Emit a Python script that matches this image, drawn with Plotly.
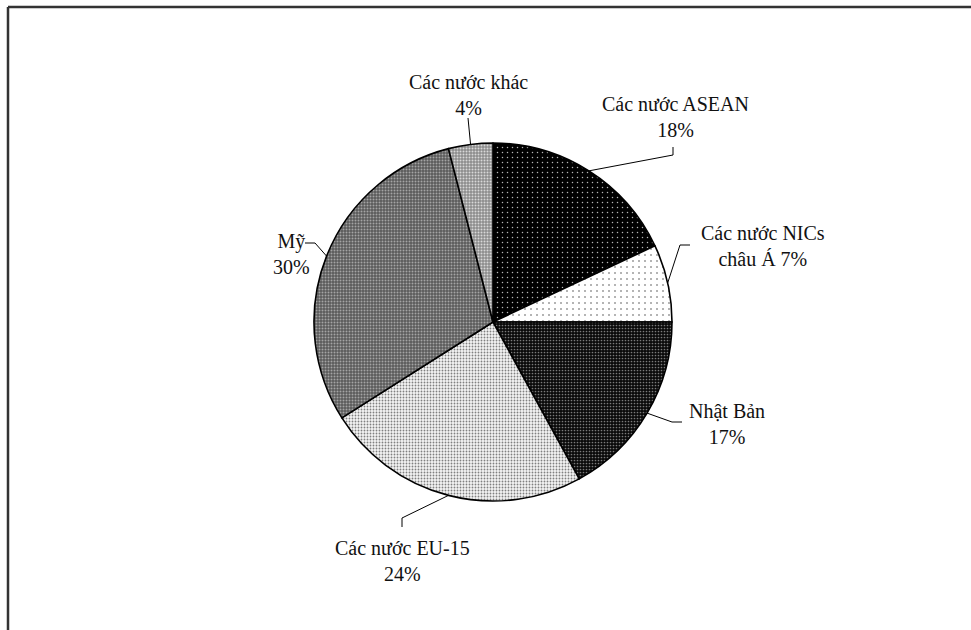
import math
import plotly.graph_objects as go

# ---- data ----
labels = ["Các nước ASEAN", "Các nước NICs châu Á", "Nhật Bản", "Các nước EU-15", "Mỹ", "Các nước khác"]
values = [18, 7, 17, 24, 30, 4]
label_text = [
    "Các nước ASEAN<br>18%",
    "Các nước NICs<br>châu Á 7%",
    "Nhật Bản<br>17%",
    "Các nước EU-15<br>24%",
    "Mỹ<br>30%",
    "Các nước khác<br>4%",
]

# ---- style / layout ----
W, H = 971, 630
CX, CY, R = 493, 322, 179  # pie centre and radius in px
FONT = dict(family="Liberation Serif, Times New Roman, serif", size=20, color="#111")

# label block centres (px) and leader bend/end points (px)
label_pos = [(675, 117), (763, 246), (727, 424), (402, 561), (291, 254), (468, 95)]
leader_pts = [
    [(673, 155), (673, 147)],
    [(680, 245), (690, 245)],
    [(672, 422), (682, 422)],
    [(402, 518), (402, 527)],
    [(315, 243), (305, 243)],
    [(468, 118)],
]

pat_bg = ["#000000", "#ffffff", "#0a0a0a", "#f4f4f4", "#5a5a5a", "#8c8c8c"]
pat_fg = ["#b5b5b5", "#555555", "#7a7a7a", "#808080", "#a4a4a4", "#d8d8d8"]
pat_size = [5, 6, 3, 3, 3, 3]
pat_sol = [0.07, 0.06, 0.25, 0.3, 0.35, 0.35]


def px(x):
    return x / W


def py(y):
    return 1 - y / H


fig = go.Figure(
    go.Pie(
        labels=labels,
        values=values,
        sort=False,
        direction="clockwise",
        rotation=0,
        textinfo="none",
        hoverinfo="label+percent",
        showlegend=False,
        domain=dict(x=[px(CX - R), px(CX + R)], y=[py(CY + R), py(CY - R)]),
        marker=dict(
            colors=pat_bg,
            line=dict(color="#000000", width=1.6),
            pattern=dict(
                shape=["."] * len(values),
                bgcolor=pat_bg,
                fgcolor=pat_fg,
                size=pat_size,
                solidity=pat_sol,
                fillmode="replace",
            ),
        ),
    )
)

shapes = []
annotations = []
total = sum(values)
cum = 0
for i, v in enumerate(values):
    mid = (cum + v / 2) / total * 2 * math.pi
    cum += v
    sx = CX + R * math.sin(mid)
    sy = CY - R * math.cos(mid)
    pts = [(sx, sy)] + leader_pts[i]
    for (x0, y0), (x1, y1) in zip(pts[:-1], pts[1:]):
        shapes.append(dict(type="line", xref="paper", yref="paper",
                           x0=px(x0), y0=py(y0), x1=px(x1), y1=py(y1),
                           line=dict(color="#000", width=1)))
    lx, ly = label_pos[i]
    annotations.append(dict(text=label_text[i], x=px(lx), y=py(ly), xref="paper", yref="paper",
                             xanchor="center", yanchor="middle", showarrow=False,
                             align="center", font=FONT))

# chart frame (top and left edges visible)
shapes.append(dict(type="line", xref="paper", yref="paper", x0=px(8), y0=py(7), x1=1, y1=py(7),
                   line=dict(color="#333", width=2.5)))
shapes.append(dict(type="line", xref="paper", yref="paper", x0=px(8), y0=py(7), x1=px(8), y1=0,
                   line=dict(color="#333", width=2.5)))

fig.update_layout(
    width=W, height=H,
    margin=dict(l=0, r=0, t=0, b=0),
    paper_bgcolor="white", plot_bgcolor="white",
    shapes=shapes, annotations=annotations,
)

fig.write_html("out.html", config={"displayModeBar": False},
               post_script="document.body.style.margin='0';document.body.style.overflow='hidden';")
